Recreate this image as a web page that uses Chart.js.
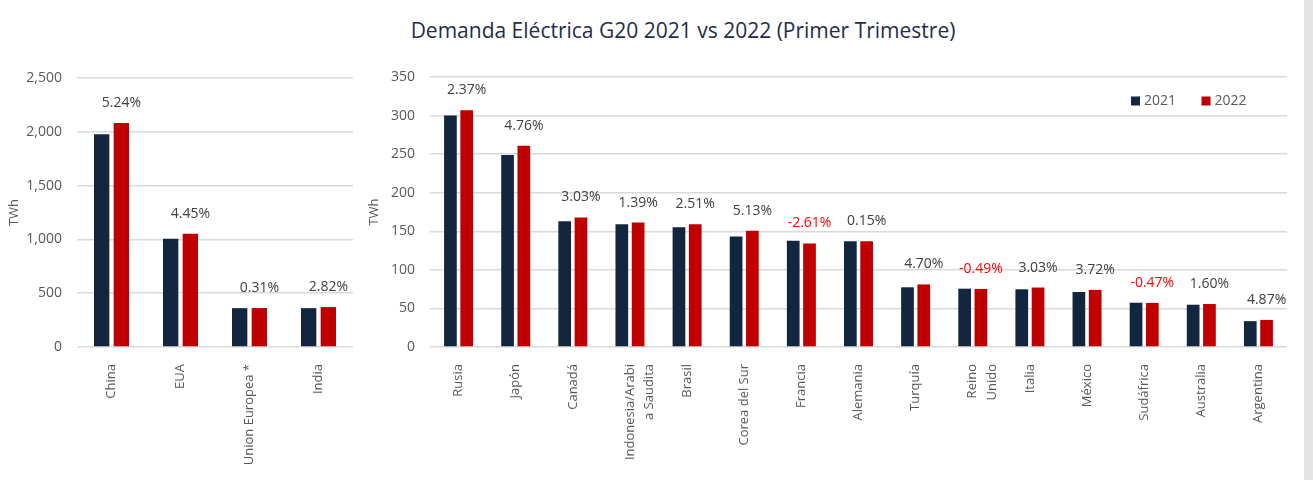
<!DOCTYPE html>
<html>
<head>
<meta charset="utf-8">
<script src="https://cdn.jsdelivr.net/npm/chart.js@4/dist/chart.umd.min.js"></script>
<style>
  body { margin: 0; background: #fff; width: 1313px; height: 480px; overflow: hidden; position: relative; font-family: 'Open Sans', sans-serif; }
  #title { position: absolute; top: 16px; left: 0; width: 1366px; text-align: center; font-size: 21px; color: #1f2d4a; }
  #leftChart { position: absolute; left: 0; top: 60px; }
  #rightChart { position: absolute; left: 360px; top: 60px; }
  #sideBar { position: absolute; left: 1304px; top: 0; width: 9px; height: 480px; background: #e4e4e4; }
</style>
</head>
<body>
<div id="title">Demanda Eléctrica G20 2021 vs 2022 (Primer Trimestre)</div>
<canvas id="leftChart" width="360" height="420"></canvas>
<canvas id="rightChart" width="940" height="420"></canvas>
<div id="sideBar"></div>
<script>
// big economies (left panel)
const bigCountries = ['China', 'EUA', 'Union Europea *', 'India'];
const big2021 = [1978, 1007, 361, 361];
const big2022 = [2082, 1052, 362, 371];
const bigChange = ['5.24%', '4.45%', '0.31%', '2.82%'];

// rest of G20 (right panel)
const otherCountries = ['Rusia', 'Japón', 'Canadá', ['Indonesia/Arabi', 'a Saudita'], 'Brasil', 'Corea del Sur',
  'Francia', 'Alemania', 'Turquía', ['Reino', 'Unido'], 'Italia', 'México', 'Sudáfrica', 'Australia', 'Argentina'];
const other2021 = [300, 249, 163, 159, 155.2, 143.4, 137.8, 137, 77.4, 75.6, 74.8, 71.3, 57.4, 54.8, 33.5];
const other2022 = [307, 260.8, 168, 161.3, 159.1, 150.8, 134.2, 137.2, 81.1, 75.3, 77.1, 74, 57.1, 55.7, 35.1];
const otherChange = ['2.37%', '4.76%', '3.03%', '1.39%', '2.51%', '5.13%', '-2.61%', '0.15%', '4.70%',
  '-0.49%', '3.03%', '3.72%', '-0.47%', '1.60%', '4.87%'];

const navy = '#12263f';
const red = '#c00000';
const grey = '#595959';

Chart.defaults.font.family = "'Open Sans', sans-serif";
Chart.defaults.color = grey;

// % change written above the 2022 bar
const changeLabels = {
  id: 'changeLabels',
  afterDatasetsDraw(chart, args, opts) {
    const ctx = chart.ctx;
    const bars = chart.getDatasetMeta(1).data;
    ctx.save();
    ctx.font = "14px 'Open Sans'";
    ctx.textAlign = 'center';
    ctx.textBaseline = 'middle';
    bars.forEach((bar, i) => {
      const txt = opts.values[i];
      ctx.fillStyle = txt.startsWith('-') ? '#ff0000' : '#404040';
      ctx.fillText(txt, bar.x, bar.y - 20);
    });
    ctx.restore();
  }
};

const cornerLegend = {
  id: 'cornerLegend',
  afterDraw(chart) {
    const ctx = chart.ctx;
    const area = chart.chartArea;
    let x = area.right - 156;
    const y = area.top + 24;
    ctx.save();
    ctx.font = "14px 'Open Sans'";
    ctx.textBaseline = 'middle';
    chart.data.datasets.forEach(ds => {
      ctx.fillStyle = ds.backgroundColor;
      ctx.fillRect(x, y - 4.5, 9, 9);
      ctx.fillStyle = grey;
      ctx.fillText(ds.label, x + 13, y);
      x += 70.5;
    });
    ctx.restore();
  }
};

function makeChart(id, labels, d2021, d2022, change, yMax, yStep, axisW, padTop, padRight, withLegend) {
  return new Chart(document.getElementById(id), {
    type: 'bar',
    data: {
      labels: labels,
      datasets: [
        { label: '2021', data: d2021, backgroundColor: navy, categoryPercentage: 0.57, barPercentage: 0.78 },
        { label: '2022', data: d2022, backgroundColor: red, categoryPercentage: 0.57, barPercentage: 0.78 }
      ]
    },
    options: {
      responsive: false,
      animation: false,
      layout: { padding: { top: padTop, right: padRight, left: 0, bottom: 0 } },
      plugins: {
        legend: { display: false },
        tooltip: { enabled: false },
        changeLabels: { values: change }
      },
      scales: {
        x: {
          grid: { display: false },
          border: { display: false },
          ticks: {
            autoSkip: false, minRotation: 90, maxRotation: 90, padding: 9,
            font: { size: 13, lineHeight: 1.5 },
            labelOffset: ctx => Array.isArray(labels[ctx.index]) ? -10 : 0
          },
          afterFit: s => { s.height = 133; }
        },
        y: {
          min: 0, max: yMax,
          border: { display: false },
          grid: { color: '#d9d9d9', lineWidth: 1.5, drawTicks: true, tickLength: 12, tickColor: 'rgba(0,0,0,0)' },
          ticks: {
            stepSize: yStep, padding: 3, font: { size: 14 },
            callback: v => v.toLocaleString('en-US')
          },
          title: { display: true, text: 'TWh', font: { size: 13 }, padding: { top: 6, bottom: 0 } },
          afterFit: s => { s.width = axisW; }
        }
      }
    },
    plugins: withLegend ? [changeLabels, cornerLegend] : [changeLabels]
  });
}

makeChart('leftChart', bigCountries, big2021, big2022, bigChange, 2500, 500, 77, 18, 7, false);
makeChart('rightChart', otherCountries, other2021, other2022, otherChange, 350, 50, 70, 17, 13, true);
</script>
</body>
</html>
